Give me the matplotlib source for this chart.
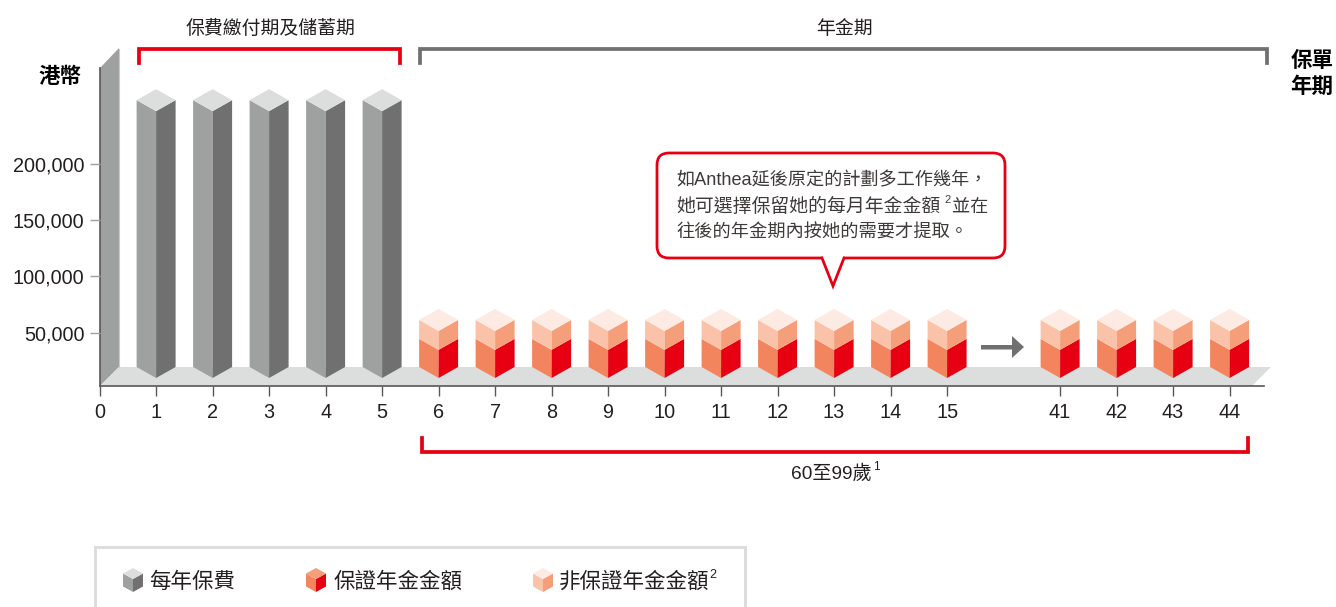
import matplotlib
matplotlib.use('Agg')
import matplotlib.pyplot as plt
from matplotlib.patches import Polygon, FancyBboxPatch, Rectangle

plt.rcParams['font.family'] = ['Liberation Sans', 'Noto Sans CJK TC']

# values
premium_years = [1, 2, 3, 4, 5]
annuity_years = [6, 7, 8, 9, 10, 11, 12, 13, 14, 15, 41, 42, 43, 44]
annual_premium = [237000, 237000, 237000, 237000, 237000]
guaranteed = [25000] * 14
non_guaranteed = [16800] * 14
y_ticks = [50000, 100000, 150000, 200000]

GREY = ['#9fa0a0', '#717071', '#dcdddd']
RED = ['#f3855e', '#e60012']
PALE = ['#fac3a9', '#f59e7a', '#fdeae2']
TEXT = '#231f20'
W, H = 1336, 607

fig = plt.figure(figsize=(W / 100, H / 100), dpi=100)

# pixel layer underneath: wall and floor
bg = fig.add_axes([0, 0, 1, 1], zorder=0)
bg.set_xlim(0, W)
bg.set_ylim(H, 0)
bg.axis('off')
bg.add_patch(Polygon([(100, 68), (119, 48), (119, 367), (100, 386)], fc='#9fa0a0', ec='none'))
bg.plot([118.5, 118.5], [49, 367], color='#c9caca', lw=0.8)
bg.plot([100, 100], [68, 386], color='#595757', lw=1.2)
bg.add_patch(Polygon([(100, 386), (119, 367), (1271, 367), (1252, 386)], fc='#dcdddd', ec='none'))

# main axes, x = slot on the axis, y = HK$
ax = fig.add_axes([99.6 / W, 1 - 386 / H, 1164 / W, 338 / H], zorder=1)
ax.patch.set_visible(False)
px_per_slot = 56.5
px_per_hkd = 56.3 / 50000
ax.set_xlim(0, 1164 / px_per_slot)
ax.set_ylim(3 / px_per_hkd, 341 / px_per_hkd)
for s in ['top', 'right', 'left']:
    ax.spines[s].set_visible(False)
ax.spines['bottom'].set_color('#595757')
ax.spines['bottom'].set_linewidth(1.2)

base = 11 / px_per_hkd
half = 19.5 / px_per_slot
rise = 11 / px_per_hkd


def sides(x, y0, y1, colors):
    ax.add_patch(Polygon([(x - half, y0 + rise), (x, y0), (x, y1), (x - half, y1 + rise)], fc=colors[0], ec='none'))
    ax.add_patch(Polygon([(x + half, y0 + rise), (x, y0), (x, y1), (x + half, y1 + rise)], fc=colors[1], ec='none'))


def top(x, y, color):
    ax.add_patch(Polygon([(x - half, y + rise), (x, y), (x + half, y + rise), (x, y + 2 * rise)], fc=color, ec='none'))


for yr, v in zip(premium_years, annual_premium):
    sides(yr, base, base + v, GREY)
    top(yr, base + v, GREY[2])

# the axis skips from 15 to 41, leaving one empty slot
slots = [y if y <= 15 else y - 24 for y in annuity_years]
for x, g, n in zip(slots, guaranteed, non_guaranteed):
    sides(x, base, base + g, RED)
    sides(x, base + g, base + g + n, PALE)
    top(x, base + g + n, PALE[2])

ax.set_xticks([0] + premium_years + slots)
ax.set_xticklabels([str(v) for v in [0] + premium_years + annuity_years])
ax.set_yticks(y_ticks)
ax.set_yticklabels([f'{v:,}' for v in y_ticks])
ax.tick_params(axis='x', length=7.2, width=1, color='#595757', labelsize=14.3, labelcolor=TEXT, pad=5.3)
ax.tick_params(axis='y', length=7.2, width=1, color='#9fa0a0', labelsize=14.3, labelcolor=TEXT, pad=3.6)

# pixel layer on top: brackets, callout, legend, captions
fg = fig.add_axes([0, 0, 1, 1], zorder=2)
fg.set_xlim(0, W)
fg.set_ylim(H, 0)
fg.axis('off')
fg.patch.set_visible(False)


def label(x, cy, s, size, color=TEXT, ha='left', **kw):
    # baseline from the wanted glyph centre, so mixed strings line up
    fg.text(x, cy + 0.38 * size * 100 / 72, s, ha=ha, va='baseline', fontsize=size, color=color, **kw)


fg.plot([139, 139, 400, 400], [63, 49, 49, 63], color='#e60012', lw=2.7, solid_joinstyle='miter')
fg.plot([420, 420, 1267, 1267], [63, 49, 49, 63], color='#717071', lw=2.7, solid_joinstyle='miter')
fg.plot([422, 422, 1248, 1248], [438, 452, 452, 438], color='#e60012', lw=2.7, solid_joinstyle='miter')

label(270, 27, '保費繳付期及儲蓄期', 13.6, ha='center')
label(844, 27, '年金期', 13.6, ha='center')
label(60, 75, '港幣', 15.5, 'black', ha='center', fontweight='bold')
label(1312, 59, '保單', 15.5, 'black', ha='center', fontweight='bold')
label(1312, 85, '年期', 15.5, 'black', ha='center', fontweight='bold')
label(791, 472, '60至99歲', 13.8)
label(873, 466, '1', 8.5)

fg.add_patch(Polygon([(981, 345), (1012, 345), (1012, 336), (1024, 347), (1012, 358), (1012, 349.5), (981, 349.5)],
                     fc='#717071', ec='none'))

# callout
fg.add_patch(FancyBboxPatch((664, 160), 334, 91, boxstyle='round,pad=7,rounding_size=12',
                            fc='white', ec='#e60012', lw=2))
fg.add_patch(Polygon([(822, 256), (833, 286), (844, 256)], fc='white', ec='none', zorder=3))
fg.plot([822, 833, 844], [258, 286, 258], color='#e60012', lw=2, zorder=4, solid_joinstyle='miter')
CALL = '#3e3a39'
label(676, 178, '如Anthea延後原定的計劃多工作幾年，', 13.1, CALL)
label(676, 205, '她可選擇保留她的每月年金金額', 13.6, CALL)
label(944, 199, '2', 8, CALL)
label(952, 205, '並在', 13.1, CALL)
label(676, 231, '往後的年金期內按她的需要才提取。', 13.15, CALL)

# legend, its box runs off the bottom of the picture
fg.add_patch(Rectangle((95, 547), 650, 80, fc='white', ec='#dcdddd', lw=2.2))


def legend_cube(cx, cy, colors):
    h, r, d = 7.5, 10, 5.5
    fg.add_patch(Polygon([(cx - r, cy - d), (cx, cy), (cx, cy + h + d), (cx - r, cy + h)], fc=colors[0], ec='none'))
    fg.add_patch(Polygon([(cx + r, cy - d), (cx, cy), (cx, cy + h + d), (cx + r, cy + h)], fc=colors[1], ec='none'))
    fg.add_patch(Polygon([(cx - r, cy - d), (cx, cy - 2 * d), (cx + r, cy - d), (cx, cy)], fc=colors[2], ec='none'))


legend_cube(133, 579, GREY)
legend_cube(316, 579, [RED[0], RED[1], PALE[1]])
legend_cube(543, 579, PALE)
label(149, 580, '每年保費', 15.5)
label(334, 580, '保證年金金額', 15.5)
label(559, 580, '非保證年金金額', 15.5)
label(709, 573, '2', 9)

fig.savefig('out.png', dpi=100)
